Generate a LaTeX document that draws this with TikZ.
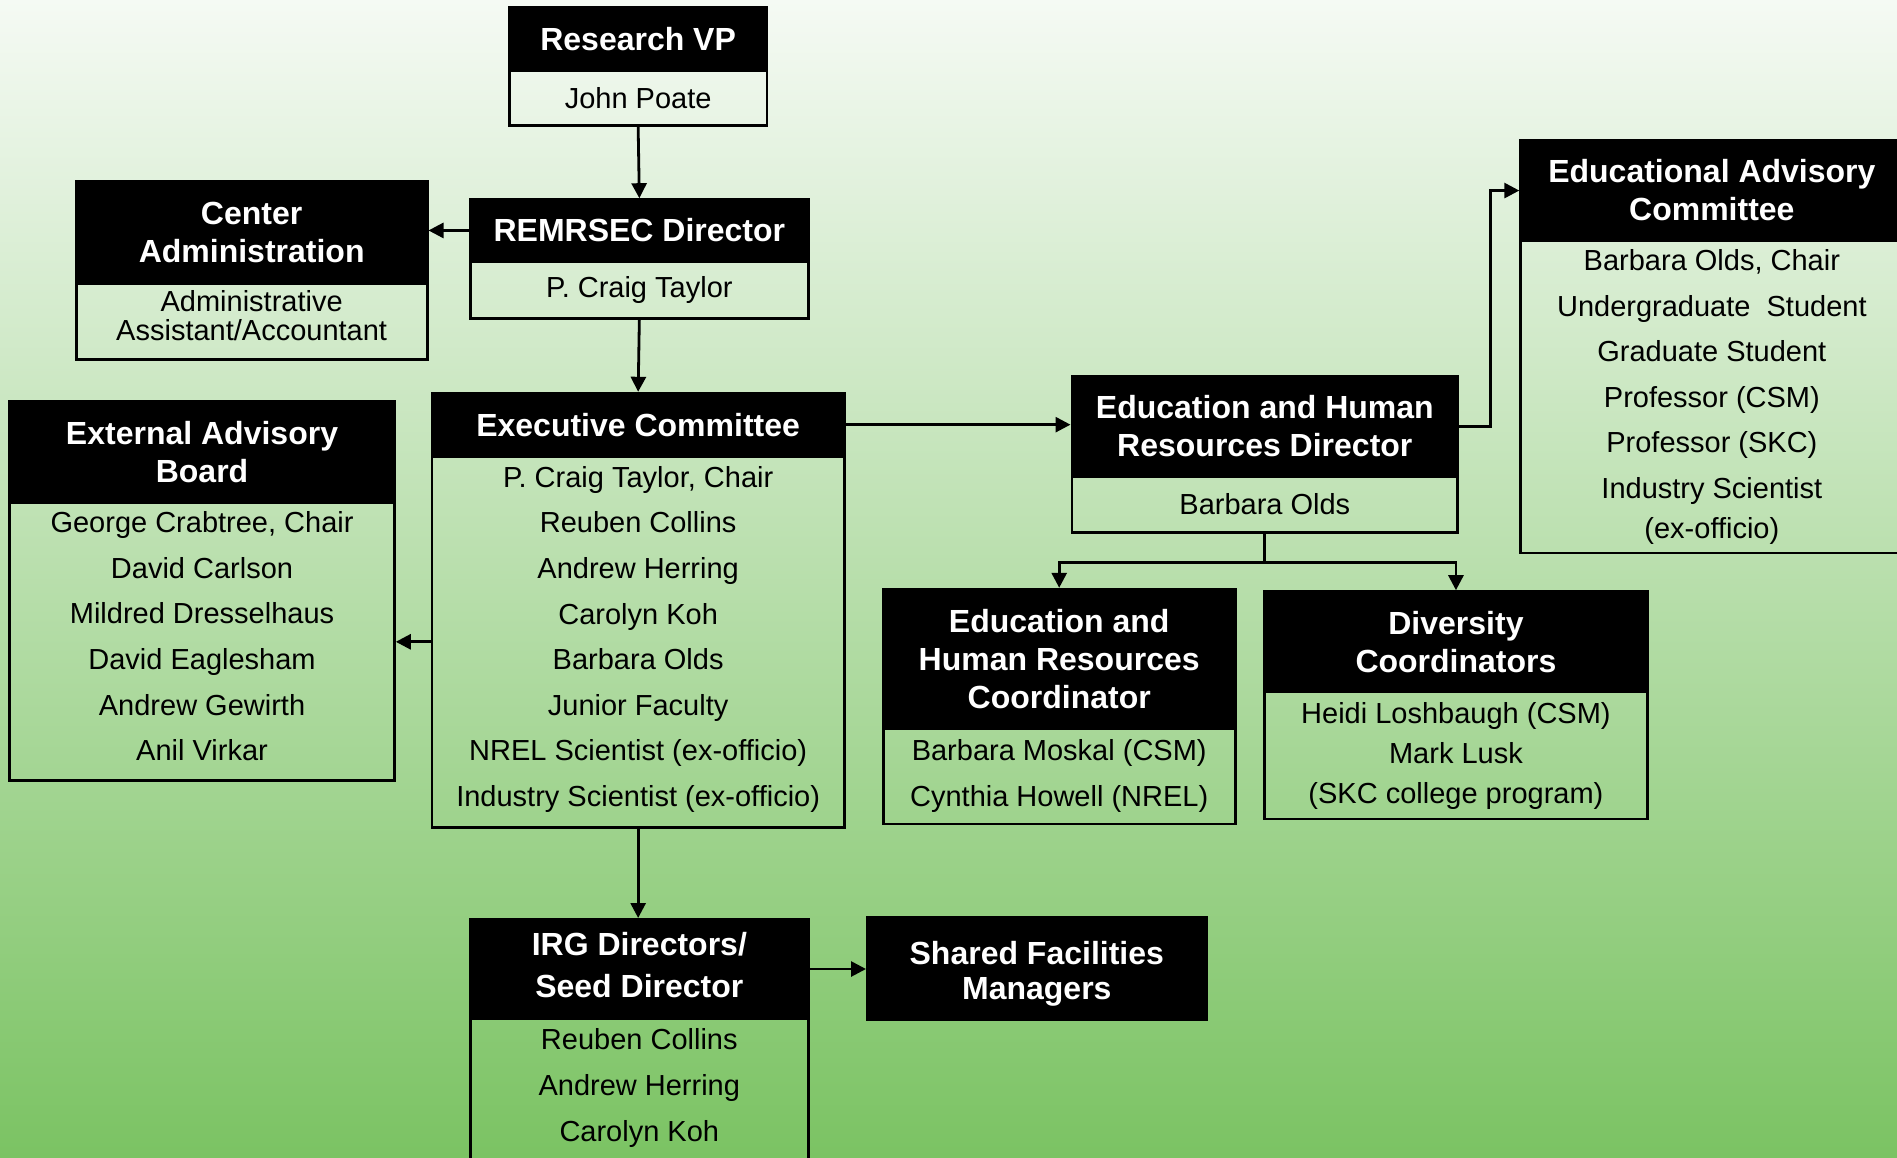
\documentclass[tikz,border=0pt]{standalone}
\usepackage{fontspec}
\setmainfont{Liberation Sans}
\usetikzlibrary{arrows.meta}

% org box: name, x-left, x-right, y-top, y-split, y-bottom, header, body
% per-box tweaks go in the optional styles "<name> head" and "<name> body"
\newcommand\orgbox[8]{%
  \node[hdr, #1 head/.try, minimum width={#3-#2}, minimum height={#5-#4}] (#1-h) at ({(#2+#3)/2},{(#4+#5)/2}) {#7};
  \node[bdy, #1 body/.try, minimum width={#3-#2}, minimum height={#6-#5}] (#1-b) at ({(#2+#3)/2},{(#5+#6)/2}) {#8};}

\definecolor{bgtop}{RGB}{245,250,244}
\definecolor{bgbot}{RGB}{123,195,99}

\begin{document}
\begin{tikzpicture}[x=1pt, y=-1pt,
  hdr/.style={fill=black, draw=black, line width=2.8pt, text=white, align=center, inner sep=0pt,
    font={\bfseries\fontsize{32}{38}\selectfont}},
  bdy/.style={draw=black, line width=2.8pt, align=center, inner sep=0pt,
    font={\fontsize{29}{45.6}\selectfont}},
  txt/.style={align=center, inner sep=0pt, font={\fontsize{29}{45.6}\selectfont}},
  arr/.style={draw=black, line width=2.8pt, -{Triangle[width=15pt,length=15pt]}},
  conn/.style={draw=black, line width=2.8pt},
  ca body/.style={font={\fontsize{29}{29}\selectfont}, text depth=12pt},
  div body/.style={font={\fontsize{29}{40}\selectfont}},
  eab body/.style={text depth=10pt},
  exec body/.style={text depth=11pt},
  irg head/.style={font={\bfseries\fontsize{32}{42}\selectfont}, text depth=8pt},
  sfm/.style={font={\bfseries\fontsize{32}{35}\selectfont}, text height=68pt}]

\clip (0,0) rectangle (1897,1157);
\shade[top color=bgtop, bottom color=bgbot] (0,0) rectangle (1897,1157);

% boxes
\orgbox{rvp}{509.3}{767.0}{7.3}{70.2}{125.8}{Research VP}{John Poate}
\orgbox{rem}{470.6}{808.1}{199.6}{261.3}{318.2}{REMRSEC Director}{P. Craig Taylor}
\orgbox{ca}{76.2}{427.1}{181.5}{283.1}{359.3}{Center\\Administration}
  {Administrative\\Assistant/Accountant}
\orgbox{eab}{9.7}{394.4}{401.7}{502.1}{780.3}{External Advisory\\Board}
  {George Crabtree, Chair\\David Carlson\\Mildred Dresselhaus\\David Eaglesham\\Andrew Gewirth\\Anil Virkar}
\orgbox{exec}{431.9}{844.4}{393.2}{456.1}{827.5}{Executive Committee}
  {P. Craig Taylor, Chair\\Reuben Collins\\Andrew Herring\\Carolyn Koh\\Barbara Olds\\Junior Faculty\\NREL Scientist (ex-officio)\\Industry Scientist (ex-officio)}
\orgbox{ehr}{1071.9}{1457.8}{376.2}{476.7}{532.3}{Education and Human\\Resources Director}{Barbara Olds}
\orgbox{eac}{1520.7}{1903}{140.3}{240.8}{552.9}{Educational Advisory\\Committee}
  {Barbara Olds, Chair\\Undergraduate\ \ Student\\Graduate Student\\Professor (CSM)\\Professor (SKC)\\Industry Scientist\\[-6pt](ex-officio)}
\orgbox{ehrc}{883.2}{1235.2}{589.2}{728.3}{823.9}{Education and\\Human Resources\\Coordinator}
  {Barbara Moskal (CSM)\\Cynthia Howell (NREL)}
\orgbox{div}{1264.2}{1647.7}{591.6}{692.0}{819.0}{Diversity\\Coordinators}
  {Heidi Loshbaugh (CSM)\\Mark Lusk\\(SKC college program)}
\orgbox{irg}{470.6}{808.1}{919.4}{1018.6}{1175}{IRG Directors/\\Seed Director}{}
\node[txt] (irg-t) at (639.3,1088) {Reuben Collins\\Andrew Herring\\Carolyn Koh};
\node[hdr, sfm, minimum width={1206.2-867.4}, minimum height={1019.9-917.0}] (sfm) at ({(867.4+1206.2)/2},{(917.0+1019.9)/2})
  {Shared Facilities\\Managers};

% connectors
\draw[arr] (rvp-b.south) -- (rem-h.north);
\draw[arr] (rem-h.west) -- (rem-h.west -| ca-h.east);
\draw[arr] (rem-b.south) -- (exec-h.north);
\draw[arr] (exec-b.west) -- (exec-b.west -| eab-b.east);
\draw[arr] (exec-h.east) -- (exec-h.east -| ehr-h.west);
\draw[arr] (exec-b.south) -- (exec-b.south |- irg-h.north);
\draw[arr] (irg-h.east) -- (irg-h.east -| sfm.west);
\draw[arr] (ehr-h.east) -- ++(31,0) |- (eac-h.west);
\draw[conn] (ehr-b.south) -- ++(0,29) coordinate (split);
\draw[arr] (split) -| (ehrc-h.north);
\draw[arr] (split) -| (div-h.north);
\end{tikzpicture}
\end{document}
